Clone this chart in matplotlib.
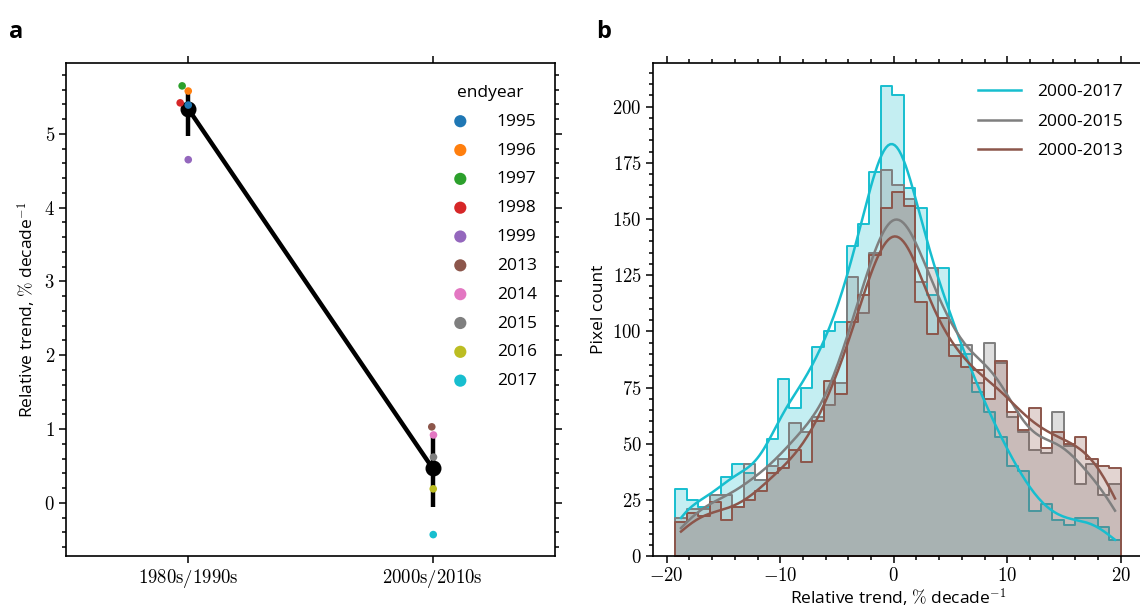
import numpy as np
import pandas as pd
import matplotlib
matplotlib.use("Agg")
import matplotlib.pyplot as plt
import seaborn as sns
from matplotlib.ticker import FuncFormatter, MultipleLocator, NullLocator
from matplotlib.lines import Line2D

plt.rcParams['font.family'] = ['Open Sans', 'DejaVu Sans']
plt.rcParams['mathtext.fontset'] = 'cm'
plt.rcParams['font.size'] = 12.5

# ---- panel a: trend per end year
periods = ['1980s/1990s', '2000s/2010s']
endyears = [1995, 1996, 1997, 1998, 1999, 2013, 2014, 2015, 2016, 2017]
period_idx = [0, 0, 0, 0, 0, 1, 1, 1, 1, 1]
trend = [5.39, 5.58, 5.65, 5.42, 4.65, 1.03, 0.92, 0.62, 0.19, -0.43]
ci_low = [4.97, -0.05]
ci_high = [5.60, 0.95]
jitter = [0.0, 0.0, -0.025, -0.033, 0.0, -0.004, 0.003, 0.003, 0.002, 0.002]

# ---- panel b: histogram of pixel trends
bin_lo, bin_hi, n_bins = -19.25, 20.0, 39
labels_b = ['2000-2017', '2000-2015', '2000-2013']
colors_b = ['#17becf', '#7f7f7f', '#8c564b']
counts_2017 = [30, 25, 22, 27, 35, 41, 37, 34, 52, 79, 66, 75, 93, 100, 104, 138, 148, 171,
               209, 205, 164, 155, 116, 128, 94, 90, 73, 64, 53, 40, 38, 20, 23, 16, 14, 17, 17, 13, 7]
counts_2015 = [17, 21, 21, 27, 27, 22, 41, 34, 40, 43, 59, 55, 62, 67, 77, 124, 108, 135,
               172, 165, 159, 122, 128, 106, 94, 94, 77, 95, 86, 62, 55, 47, 46, 64, 49, 32, 41, 27, 32]
counts_2013 = [15, 19, 18, 24, 16, 22, 25, 29, 37, 39, 47, 42, 60, 78, 72, 104, 116, 134,
               155, 162, 156, 113, 99, 106, 89, 84, 83, 70, 87, 64, 56, 66, 48, 55, 50, 53, 43, 40, 39]

W, H = 1140, 613
fig = plt.figure(figsize=(W / 100, H / 100), dpi=100)


def px_axes(left, top, right, bottom):
    return fig.add_axes([left / W, 1 - bottom / H, (right - left) / W, (bottom - top) / H])


math_fmt = FuncFormatter(lambda v, p: r'$%g$' % v)
TICK_FS = 13.5

# ================= panel a
ax = px_axes(66, 63, 555, 556)
colors_a = plt.get_cmap('tab10').colors
trend_arr = np.array(trend)
pidx = np.array(period_idx)
means = [trend_arr[pidx == i].mean() for i in range(len(periods))]

ax.vlines(range(len(periods)), ci_low, ci_high, color='k', lw=3.2, zorder=2)
ax.plot(range(len(periods)), means, color='k', lw=3.2, marker='o', ms=10.5, zorder=2)
for i, yr in enumerate(endyears):
    ax.scatter(period_idx[i] + jitter[i], trend[i], s=30, color=colors_a[i],
               edgecolor='none', zorder=3, label=str(yr))

ax.set_xlim(-0.5, 1.5)
ax.set_ylim(-0.72, 5.96)
ax.set_xticks(range(len(periods)))
ax.set_xticklabels([r'$\mathrm{%s}$' % p for p in periods])
ax.yaxis.set_major_locator(MultipleLocator(1))
ax.yaxis.set_minor_locator(MultipleLocator(0.2))
ax.xaxis.set_minor_locator(NullLocator())
ax.yaxis.set_major_formatter(math_fmt)
ax.set_ylabel(r'Relative trend, $\%$ decade$^{-1}$', labelpad=4)

ax.legend(title='endyear', frameon=False, loc='upper left',
          bbox_to_anchor=(436 / W, 1 - 78 / H), bbox_transform=fig.transFigure,
          borderaxespad=0, markerscale=1.6, handletextpad=1.1, labelspacing=0.73,
          fontsize=12.5, title_fontsize=12.5)

# ================= panel b
axb = px_axes(653, 63, 1143, 556)
edges = np.linspace(bin_lo, bin_hi, n_bins + 1)
centers = 0.5 * (edges[:-1] + edges[1:])
frames = []
for lab, cnt in zip(labels_b, [counts_2017, counts_2015, counts_2013]):
    frames.append(pd.DataFrame({'trend': np.repeat(centers, cnt), 'period': lab}))
df = pd.concat(frames, ignore_index=True)

sns.histplot(data=df, x='trend', hue='period', hue_order=labels_b[::-1],
             palette=dict(zip(labels_b, colors_b)), bins=edges, element='step',
             alpha=0.25, linewidth=1.4, kde=True, line_kws={'linewidth': 1.8},
             legend=False, ax=axb)

axb.set_xlabel(r'Relative trend, $\%$ decade$^{-1}$', labelpad=1)
axb.set_ylabel('Pixel count', labelpad=4)
axb.xaxis.set_major_locator(MultipleLocator(10))
axb.xaxis.set_minor_locator(MultipleLocator(2))
axb.yaxis.set_major_locator(MultipleLocator(25))
axb.yaxis.set_minor_locator(MultipleLocator(5))
axb.xaxis.set_major_formatter(math_fmt)
axb.yaxis.set_major_formatter(math_fmt)

handles = [Line2D([], [], color=c, lw=1.8) for c in colors_b]
axb.legend(handles, labels_b, frameon=False, loc='upper left',
           bbox_to_anchor=(971 / W, 1 - 77 / H), bbox_transform=fig.transFigure,
           borderaxespad=0, handlelength=2.5, handletextpad=0.9, labelspacing=0.78,
           fontsize=12.5)

for a in (ax, axb):
    for s in a.spines.values():
        s.set_linewidth(1.2)
    a.tick_params(which='both', direction='out', top=True, right=True, width=1.1)
    a.tick_params(which='major', length=5, labelsize=TICK_FS, pad=3)
    a.tick_params(which='minor', length=3)

fig.text(9 / W, 1 - 32 / H, 'a', fontsize=17, fontweight='bold', va='center')
fig.text(596 / W, 1 - 32 / H, 'b', fontsize=17, fontweight='bold', va='center')

fig.savefig('out.png', dpi=100)
